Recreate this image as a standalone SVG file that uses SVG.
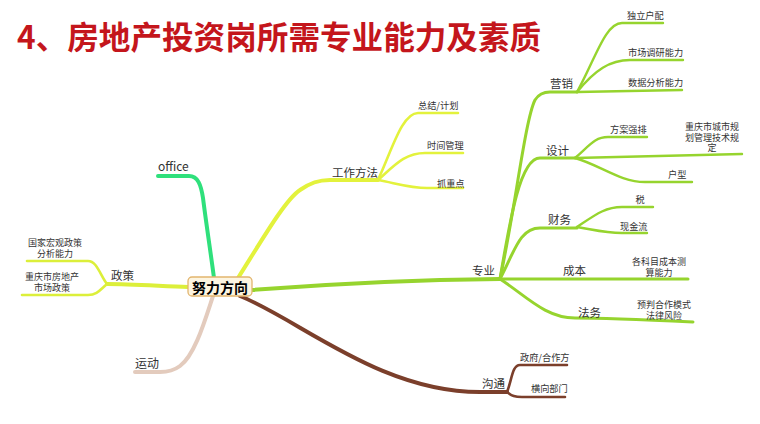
<svg xmlns="http://www.w3.org/2000/svg" width="760" height="424" viewBox="0 0 760 424">
<style>
text{font-family:"Noto Sans CJK SC","Liberation Sans",sans-serif;fill:#333;dominant-baseline:central}
.t{font-size:31.6px;font-weight:bold;fill:#c4161c}
.m{font-size:11.5px}
.s{font-size:9.2px}
.s9{font-size:9px}
.c{text-anchor:middle}
path{fill:none;stroke-linecap:round;stroke-linejoin:round}
.off{stroke:#2fe07c;stroke-width:4}
.wk{stroke:#e3f23c;stroke-width:4}
.wk2{stroke:#e3f23c;stroke-width:2.6}
.zy{stroke:#96d42e;stroke-width:4}
.zy2{stroke:#96d42e;stroke-width:3}
.zy3{stroke:#96d42e;stroke-width:2.4}
.zc{stroke:#dcef3a;stroke-width:4}
.zc2{stroke:#dcef3a;stroke-width:2.6}
.yd{stroke:#e3cbbd;stroke-width:4}
.gt{stroke:#7b3f2b;stroke-width:4}
.gt2{stroke:#7b3f2b;stroke-width:2.6}
</style>
<rect width="760" height="424" fill="#fff"/>
<text class="t" x="17" y="35">4、房地产投资岗所需专业能力及素质</text>
<g id="connectors">
<path class="off" d="M158,176 L189,176 C198,176 201,185 203,198 C206,222 211,255 214,278"/>
<path class="wk" d="M238,278 C262,240 285,200 300,190 C310,183 318,180 330,180 L378,180"/>
<path class="wk2" d="M378,180 C392,150 402,113 418,113 H458"/>
<path class="wk2" d="M378,180 C395,165 405,153 425,153 H463"/>
<path class="wk2" d="M378,180 C395,183 410,188 427,188 H463"/>
<path class="zy" d="M252,290 Q380,280 500,279"/>
<path class="zy2" d="M500,279 C515,210 525,120 535,100 Q540,92 550,92 H577"/>
<path class="zy2" d="M500,279 C510,220 520,158 540,158 H575"/>
<path class="zy2" d="M500,279 C515,250 520,228 540,228 H577"/>
<path class="zy2" d="M500,279 H688"/>
<path class="zy2" d="M500,279 C525,295 545,318 575,318 C600,318 650,320 693,322"/>
<path class="zy3" d="M577,92 C595,60 605,23 622,23 H663"/>
<path class="zy3" d="M577,92 C595,70 610,60 630,60 H683"/>
<path class="zy3" d="M577,92 L682,90"/>
<path class="zy3" d="M575,158 C590,145 595,137 608,137 H647"/>
<path class="zy3" d="M575,158 L742,154"/>
<path class="zy3" d="M575,158 C600,165 620,182 645,182 H692"/>
<path class="zy3" d="M577,227 C595,215 605,207 622,207 H653"/>
<path class="zy3" d="M577,227 C595,230 605,233 622,233 H647"/>
<path class="zc" d="M188,287 C160,286 130,284 107,284"/>
<path class="zc2" d="M107,284 C100,275 97,261 88,261 H27"/>
<path class="zc2" d="M107,284 C100,290 97,295 88,295 H22"/>
<path class="yd" d="M213,296 C205,320 195,355 180,366 Q172,372 160,372 H135"/>
<path class="gt" d="M240,296 C300,320 380,392 480,392 H507"/>
<path class="gt2" d="M507,392 C512,380 512,365 520,365 H567"/>
<path class="gt2" d="M507,392 C512,396 515,397 522,397 H565"/>
</g>
<g id="center"><rect x="188" y="277" width="64" height="19" rx="4" fill="#fdf5e1" stroke="#e2b56e" stroke-width="1.3"/><text x="220" y="287" class="c" style="font-size:14px;font-weight:bold;fill:#000">努力方向</text></g>
<g id="office"><text class="m" x="158" y="165" style="font-size:12px">office</text></g>
<g id="gzff"><text class="m" x="332" y="172">工作方法</text></g>
<g id="zjjh"><text class="s" x="418" y="105">总结/计划</text></g>
<g id="sjgl"><text class="s" x="427" y="145">时间管理</text></g>
<g id="zzd"><text class="s" x="437" y="183">抓重点</text></g>
<g id="zhuanye"><text class="m" x="472" y="270">专业</text></g>
<g id="yingxiao"><text class="m" x="550" y="83">营销</text></g>
<g id="dlhp"><text class="s" x="627" y="15">独立户配</text></g>
<g id="scdy"><text class="s" x="628" y="52">市场调研能力</text></g>
<g id="sjfx"><text class="s" x="628" y="82">数据分析能力</text></g>
<g id="sheji"><text class="m" x="546" y="150">设计</text></g>
<g id="faqp"><text class="s" x="610" y="129">方案强排</text></g>
<g id="cqgd"><text class="s9 c" x="712" y="126">重庆市城市规<tspan x="712" dy="10.5">划管理技术规</tspan><tspan x="712" dy="10.5">定</tspan></text></g>
<g id="huxing"><text class="s" x="668" y="174">户型</text></g>
<g id="caiwu"><text class="m" x="548" y="219">财务</text></g>
<g id="shui"><text class="s c" x="640" y="199">税</text></g>
<g id="xjl"><text class="s" x="620" y="226">现金流</text></g>
<g id="chengben"><text class="m" x="563" y="270">成本</text></g>
<g id="gkm"><text class="s9 c" x="659" y="261.5">各科目成本测<tspan x="659" dy="10.5">算能力</tspan></text></g>
<g id="fawu"><text class="m" x="578" y="312">法务</text></g>
<g id="ypfx"><text class="s9 c" x="664" y="304.5">预判合作模式<tspan x="664" dy="10.5">法律风险</tspan></text></g>
<g id="zhengce"><text class="m" x="111" y="275">政策</text></g>
<g id="gjhg"><text class="s9 c" x="55" y="242.5">国家宏观政策<tspan x="55" dy="10.5">分析能力</tspan></text></g>
<g id="cqfdc"><text class="s9 c" x="52" y="276.5">重庆市房地产<tspan x="52" dy="10.5">市场政策</tspan></text></g>
<g id="yundong"><text class="m" x="135" y="362" style="font-size:12px">运动</text></g>
<g id="goutong"><text class="m" x="482" y="383">沟通</text></g>
<g id="zfhz"><text class="s" x="520" y="357">政府/合作方</text></g>
<g id="hxbm"><text class="s" x="531" y="388">横向部门</text></g>
</svg>
